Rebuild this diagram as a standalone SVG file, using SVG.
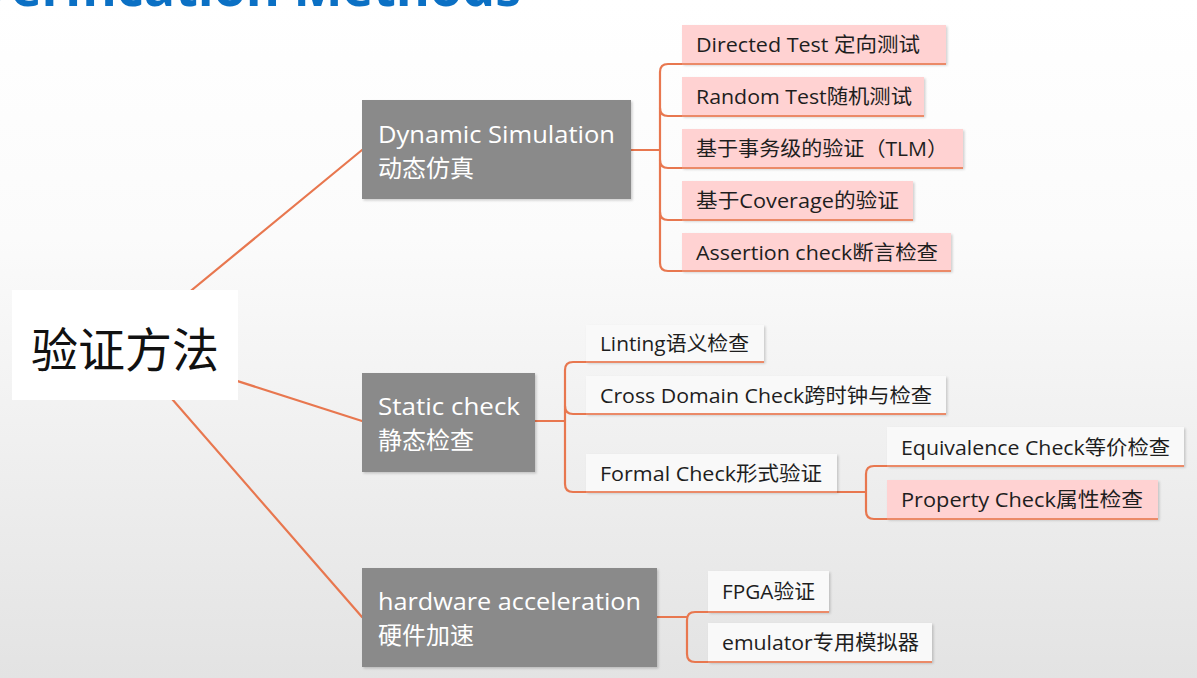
<svg xmlns="http://www.w3.org/2000/svg" width="1197" height="678" viewBox="0 0 1197 678">
  <defs>
    <linearGradient id="bg" x1="0" y1="0" x2="0" y2="1">
      <stop offset="0" stop-color="#ffffff"/>
      <stop offset="0.35" stop-color="#fbfbfb"/>
      <stop offset="1" stop-color="#e3e3e3"/>
    </linearGradient>
    <filter id="sh" x="-5%" y="-10%" width="112%" height="130%">
      <feDropShadow dx="1.5" dy="1.5" stdDeviation="1.2" flood-color="#000" flood-opacity="0.18"/>
    </filter>
  </defs>
  <style>
    .cn { font-family: "Open Sans", "Noto Sans", "Noto Sans CJK SC", sans-serif; }
    .gray { fill: #8a8a8a; }
    .pink { fill: #ffd2d2; }
    .white { fill: #f9f9f9; }
    .ptxt { fill: #ffffff; font-size: 24px; }
    .ctxt { fill: #1e1e1e; font-size: 20px; }
    .line { fill: none; stroke: #e8774f; stroke-width: 2.2; stroke-linecap: round; }
    .uline { fill: none; stroke: #eb8a68; stroke-width: 2; }
  </style>

  <rect x="0" y="0" width="1197" height="678" fill="url(#bg)"/>

  <text x="521" y="6" text-anchor="end" class="cn" font-weight="bold" font-size="52" fill="#0b70c4">Verification Methods</text>

  <g id="connectors">
    <line class="line" x1="125" y1="345" x2="362" y2="150"/>
    <line class="line" x1="125" y1="345" x2="362" y2="421"/>
    <line class="line" x1="125" y1="345" x2="362" y2="617"/>
    <path class="line" d="M631 150 H660"/>
    <path class="line" d="M682 64 H668 Q660 64 660 72 V263 Q660 271 668 271 H682"/>
    <path class="line" d="M660 108 Q660 116 668 116 H682"/>
    <path class="line" d="M660 160 Q660 168 668 168 H682"/>
    <path class="line" d="M660 212 Q660 220 668 220 H682"/>
    <path class="line" d="M535 421 H565"/>
    <path class="line" d="M586 362 H573 Q565 362 565 370 V484 Q565 492 573 492 H586"/>
    <path class="line" d="M565 406 Q565 414 573 414 H586"/>
    <path class="line" d="M837 492 H866"/>
    <path class="line" d="M887 466 H874 Q866 466 866 474 V511 Q866 519 874 519 H887"/>
    <path class="line" d="M657 617 H687"/>
    <path class="line" d="M708 612 H695 Q687 612 687 620 V654 Q687 662 695 662 H708"/>
  </g>

  <g id="root">
    <rect x="12" y="290" width="226" height="110" fill="#ffffff"/>
    <text x="125" y="367" text-anchor="middle" class="cn" font-size="47" fill="#111">验证方法</text>
  </g>

  <g id="dynamic">
    <rect x="362" y="100" width="269" height="99" class="gray" filter="url(#sh)"/>
    <text x="378" y="143" class="cn ptxt" textLength="237" lengthAdjust="spacingAndGlyphs">Dynamic Simulation</text>
    <text x="378" y="177" class="cn ptxt">动态仿真</text>
  </g>

  <g id="directed">
    <rect x="682" y="25" width="264" height="39" class="pink" filter="url(#sh)"/>
    <line class="uline" x1="682" y1="64" x2="946" y2="64"/>
    <text x="696" y="52" class="cn ctxt" textLength="224" lengthAdjust="spacingAndGlyphs">Directed Test 定向测试</text>
  </g>
  <g id="random">
    <rect x="682" y="77" width="242" height="39" class="pink" filter="url(#sh)"/>
    <line class="uline" x1="682" y1="116" x2="924" y2="116"/>
    <text x="696" y="104" class="cn ctxt" textLength="216" lengthAdjust="spacingAndGlyphs">Random Test随机测试</text>
  </g>
  <g id="tlm">
    <rect x="682" y="129" width="281" height="39" class="pink" filter="url(#sh)"/>
    <line class="uline" x1="682" y1="168" x2="963" y2="168"/>
    <text x="696" y="156" class="cn ctxt" textLength="252" lengthAdjust="spacingAndGlyphs">基于事务级的验证（TLM）</text>
  </g>
  <g id="coverage">
    <rect x="682" y="181" width="231" height="39" class="pink" filter="url(#sh)"/>
    <line class="uline" x1="682" y1="220" x2="913" y2="220"/>
    <text x="696" y="208" class="cn ctxt" textLength="203" lengthAdjust="spacingAndGlyphs">基于Coverage的验证</text>
  </g>
  <g id="assertion">
    <rect x="682" y="233" width="269" height="38" class="pink" filter="url(#sh)"/>
    <line class="uline" x1="682" y1="271" x2="951" y2="271"/>
    <text x="696" y="260" class="cn ctxt" textLength="242" lengthAdjust="spacingAndGlyphs">Assertion check断言检查</text>
  </g>

  <g id="static">
    <rect x="362" y="373" width="173" height="99" class="gray" filter="url(#sh)"/>
    <text x="378" y="415" class="cn ptxt" textLength="142" lengthAdjust="spacingAndGlyphs">Static check</text>
    <text x="378" y="449" class="cn ptxt">静态检查</text>
  </g>

  <g id="linting">
    <rect x="586" y="325" width="178" height="37" class="white" filter="url(#sh)"/>
    <line class="uline" x1="586" y1="362" x2="764" y2="362"/>
    <text x="600" y="351" class="cn ctxt" textLength="149" lengthAdjust="spacingAndGlyphs">Linting语义检查</text>
  </g>
  <g id="crossdomain">
    <rect x="586" y="376" width="360" height="38" class="white" filter="url(#sh)"/>
    <line class="uline" x1="586" y1="414" x2="946" y2="414"/>
    <text x="600" y="403" class="cn ctxt" textLength="332" lengthAdjust="spacingAndGlyphs">Cross Domain Check跨时钟与检查</text>
  </g>
  <g id="formal">
    <rect x="586" y="454" width="251" height="38" class="white" filter="url(#sh)"/>
    <line class="uline" x1="586" y1="492" x2="837" y2="492"/>
    <text x="600" y="481" class="cn ctxt" textLength="222" lengthAdjust="spacingAndGlyphs">Formal Check形式验证</text>
  </g>
  <g id="equivalence">
    <rect x="887" y="427" width="297" height="39" class="white" filter="url(#sh)"/>
    <line class="uline" x1="887" y1="466" x2="1184" y2="466"/>
    <text x="901" y="455" class="cn ctxt" textLength="269" lengthAdjust="spacingAndGlyphs">Equivalence Check等价检查</text>
  </g>
  <g id="property">
    <rect x="887" y="480" width="271" height="39" class="pink" filter="url(#sh)"/>
    <line class="uline" x1="887" y1="519" x2="1158" y2="519"/>
    <text x="901" y="507" class="cn ctxt" textLength="242" lengthAdjust="spacingAndGlyphs">Property Check属性检查</text>
  </g>

  <g id="hardware">
    <rect x="362" y="568" width="295" height="99" class="gray" filter="url(#sh)"/>
    <text x="378" y="610" class="cn ptxt" textLength="263" lengthAdjust="spacingAndGlyphs">hardware acceleration</text>
    <text x="378" y="644" class="cn ptxt">硬件加速</text>
  </g>

  <g id="fpga">
    <rect x="708" y="571" width="121" height="41" class="white" filter="url(#sh)"/>
    <line class="uline" x1="708" y1="612" x2="829" y2="612"/>
    <text x="722" y="599" class="cn ctxt" textLength="93" lengthAdjust="spacingAndGlyphs">FPGA验证</text>
  </g>
  <g id="emulator">
    <rect x="708" y="623" width="224" height="39" class="white" filter="url(#sh)"/>
    <line class="uline" x1="708" y1="662" x2="932" y2="662"/>
    <text x="722" y="650" class="cn ctxt" textLength="197" lengthAdjust="spacingAndGlyphs">emulator专用模拟器</text>
  </g>
</svg>
